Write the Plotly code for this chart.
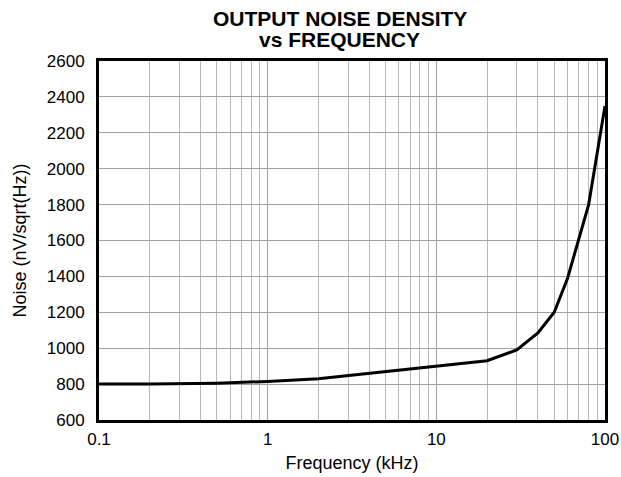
import plotly.graph_objects as go

freq_khz = [0.1, 0.2, 0.5, 1, 2, 5, 10, 20, 30, 40, 50, 60, 80, 100]
noise = [800, 800, 805, 815, 830, 870, 900, 930, 990, 1085, 1200, 1390, 1800, 2350]
x_ticks = [0.1, 1, 10, 100]
x_tick_labels = ["0.1", "1", "10", "100"]
y_ticks = list(range(600, 2601, 200))
title_lines = ["OUTPUT NOISE DENSITY", "vs FREQUENCY"]

fig = go.Figure()
fig.add_trace(go.Scatter(x=freq_khz, y=noise, mode="lines",
                         line=dict(color="black", width=3), showlegend=False))

font = "Liberation Sans, Arial, sans-serif"
fig.update_layout(
    width=621, height=477,
    margin=dict(l=99, r=16, t=61, b=57),
    paper_bgcolor="white", plot_bgcolor="white",
    font=dict(family=font, color="black", size=17),
)
for txt, yshift in zip(title_lines, [43, 22]):
    fig.add_annotation(text="<b>%s</b>" % txt, xref="paper", yref="paper",
                       x=0.476, y=1, xanchor="center", yanchor="middle",
                       yshift=yshift, showarrow=False,
                       font=dict(size=21, family=font, color="black"))

fig.update_xaxes(
    type="log", range=[-1, 2],
    tickvals=x_ticks, ticktext=x_tick_labels,
    tickfont=dict(size=17), automargin=False,
    showgrid=True, gridcolor="#a0a0a0", gridwidth=1,
    minor=dict(showgrid=True, gridcolor="#b8b8b8", gridwidth=1, dtick="D1"),
    showline=True, linecolor="black", linewidth=3, mirror=True,
    ticks="outside", ticklen=2, tickcolor="rgba(0,0,0,0)", zeroline=False,
    title=dict(text="Frequency (kHz)", font=dict(size=18), standoff=8),
)
fig.update_yaxes(
    range=[600, 2600], tickvals=y_ticks,
    tickfont=dict(size=17), automargin=False,
    showgrid=True, gridcolor="#a0a0a0", gridwidth=1,
    showline=True, linecolor="black", linewidth=3, mirror=True,
    ticks="outside", ticklen=8, tickcolor="rgba(0,0,0,0)", zeroline=False,
    title=dict(text="Noise (nV/sqrt(Hz))", font=dict(size=18), standoff=16),
)
fig.write_html("out.html", config={"displayModeBar": False},
               post_script="document.body.style.margin='0';")
